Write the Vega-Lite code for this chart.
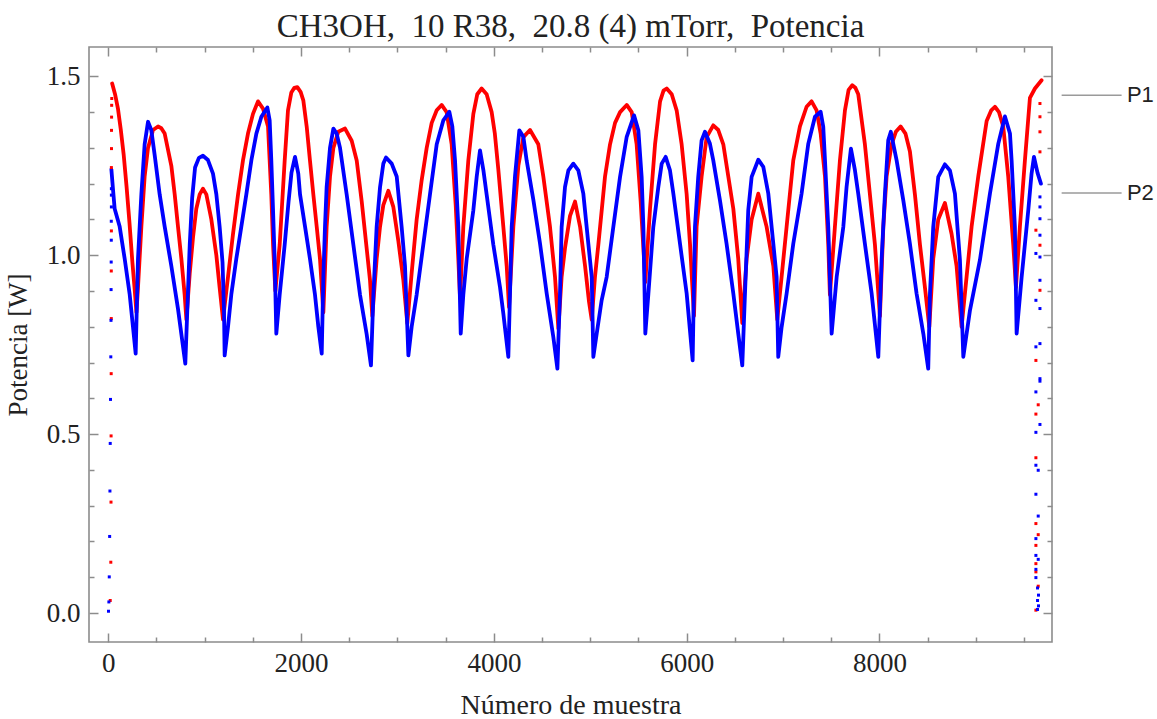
{
  "$schema": "https://vega.github.io/schema/vega-lite/v6.json",
  "width": 963,
  "height": 595,
  "autosize": {"type": "none"},
  "padding": {"left": 89, "top": 47, "right": 105, "bottom": 77},
  "background": "white",
  "title": {
    "text": "CH3OH,\u00a0 10 R38,\u00a0 20.8 (4) mTorr,\u00a0 Potencia",
    "font": "Liberation Serif",
    "fontSize": 33,
    "fontWeight": "normal",
    "color": "#222222",
    "anchor": "middle",
    "baseline": "alphabetic",
    "offset": -24
  },
  "config": {
    "view": {"stroke": "#8c8c8c", "strokeWidth": 1.6},
    "axis": {"grid": false}
  },
  "datasets": {
    "p1": [
      {"n":40,"v":1.48},{"n":70,"v":1.45},{"n":100,"v":1.41},{"n":130,"v":1.35},{"n":160,"v":1.28},{"n":190,"v":1.19},{"n":220,"v":1.09},{"n":250,"v":0.98},{"n":275,"v":0.9},{"n":292,"v":0.84},
      {"n":308,"v":0.91},{"n":343,"v":1.08},{"n":377,"v":1.22},{"n":412,"v":1.3},{"n":464,"v":1.35},{"n":516,"v":1.36},{"n":550,"v":1.355},{"n":585,"v":1.34},{"n":654,"v":1.25},{"n":689,"v":1.17},{"n":723,"v":1.08},{"n":758,"v":0.99},{"n":792,"v":0.89},{"n":810,"v":0.82},
      {"n":845,"v":0.95},{"n":879,"v":1.05},{"n":913,"v":1.13},{"n":948,"v":1.17},{"n":982,"v":1.186},{"n":1017,"v":1.17},{"n":1069,"v":1.1},{"n":1121,"v":1.0},{"n":1155,"v":0.91},{"n":1190,"v":0.82},
      {"n":1242,"v":0.94},{"n":1294,"v":1.06},{"n":1346,"v":1.17},{"n":1397,"v":1.265},{"n":1449,"v":1.34},{"n":1501,"v":1.395},{"n":1553,"v":1.43},{"n":1605,"v":1.41},{"n":1657,"v":1.36},{"n":1691,"v":1.17},{"n":1709,"v":1.03},{"n":1733,"v":0.9},
      {"n":1778,"v":1.03},{"n":1830,"v":1.265},{"n":1864,"v":1.405},{"n":1899,"v":1.455},{"n":1930,"v":1.468},{"n":1961,"v":1.47},{"n":1996,"v":1.456},{"n":2023,"v":1.433},{"n":2058,"v":1.36},{"n":2092,"v":1.265},{"n":2127,"v":1.17},{"n":2162,"v":1.08},{"n":2196,"v":0.99},{"n":2231,"v":0.84},
      {"n":2265,"v":1.08},{"n":2300,"v":1.22},{"n":2335,"v":1.3},{"n":2386,"v":1.345},{"n":2456,"v":1.354},{"n":2525,"v":1.32},{"n":2577,"v":1.265},{"n":2629,"v":1.15},{"n":2680,"v":1.02},{"n":2715,"v":0.93},{"n":2739,"v":0.83},
      {"n":2784,"v":0.99},{"n":2819,"v":1.08},{"n":2853,"v":1.14},{"n":2905,"v":1.18},{"n":2957,"v":1.135},{"n":3009,"v":1.04},{"n":3061,"v":0.93},{"n":3102,"v":0.81},
      {"n":3147,"v":0.95},{"n":3199,"v":1.1},{"n":3251,"v":1.21},{"n":3303,"v":1.3},{"n":3355,"v":1.37},{"n":3407,"v":1.405},{"n":3458,"v":1.42},{"n":3510,"v":1.4},{"n":3562,"v":1.31},{"n":3604,"v":1.14},{"n":3631,"v":0.99},{"n":3649,"v":0.88},
      {"n":3683,"v":1.08},{"n":3735,"v":1.265},{"n":3787,"v":1.395},{"n":3828,"v":1.45},{"n":3873,"v":1.466},{"n":3925,"v":1.45},{"n":3977,"v":1.4},{"n":4010,"v":1.34},{"n":4046,"v":1.24},{"n":4098,"v":1.08},{"n":4133,"v":0.97},{"n":4157,"v":0.855},
      {"n":4202,"v":1.08},{"n":4254,"v":1.25},{"n":4306,"v":1.33},{"n":4375,"v":1.35},{"n":4461,"v":1.31},{"n":4513,"v":1.22},{"n":4582,"v":1.08},{"n":4634,"v":0.94},{"n":4669,"v":0.795},
      {"n":4703,"v":0.94},{"n":4738,"v":1.02},{"n":4790,"v":1.11},{"n":4842,"v":1.15},{"n":4894,"v":1.08},{"n":4946,"v":0.97},{"n":4987,"v":0.87},{"n":5015,"v":0.82},
      {"n":5049,"v":0.94},{"n":5084,"v":1.03},{"n":5153,"v":1.22},{"n":5205,"v":1.31},{"n":5257,"v":1.37},{"n":5309,"v":1.4},{"n":5378,"v":1.42},{"n":5430,"v":1.4},{"n":5481,"v":1.31},{"n":5523,"v":1.15},{"n":5551,"v":1.02},{"n":5571,"v":0.925},
      {"n":5620,"v":1.13},{"n":5672,"v":1.31},{"n":5724,"v":1.43},{"n":5760,"v":1.46},{"n":5793,"v":1.466},{"n":5845,"v":1.45},{"n":5896,"v":1.405},{"n":5948,"v":1.31},{"n":6000,"v":1.17},{"n":6035,"v":1.03},{"n":6076,"v":0.83},
      {"n":6103,"v":1.08},{"n":6155,"v":1.22},{"n":6207,"v":1.33},{"n":6276,"v":1.363},{"n":6328,"v":1.35},{"n":6380,"v":1.31},{"n":6432,"v":1.22},{"n":6484,"v":1.13},{"n":6535,"v":0.99},{"n":6577,"v":0.81},
      {"n":6622,"v":0.99},{"n":6674,"v":1.1},{"n":6743,"v":1.172},{"n":6829,"v":1.08},{"n":6899,"v":0.97},{"n":6940,"v":0.82},
      {"n":6985,"v":0.94},{"n":7037,"v":1.08},{"n":7106,"v":1.265},{"n":7175,"v":1.36},{"n":7244,"v":1.415},{"n":7296,"v":1.43},{"n":7348,"v":1.405},{"n":7390,"v":1.34},{"n":7435,"v":1.22},{"n":7469,"v":1.03},{"n":7486,"v":0.89},
      {"n":7538,"v":1.08},{"n":7590,"v":1.265},{"n":7642,"v":1.405},{"n":7680,"v":1.462},{"n":7718,"v":1.475},{"n":7750,"v":1.468},{"n":7780,"v":1.45},{"n":7849,"v":1.31},{"n":7901,"v":1.17},{"n":7953,"v":1.03},{"n":8005,"v":0.83},
      {"n":8040,"v":1.08},{"n":8074,"v":1.22},{"n":8126,"v":1.31},{"n":8170,"v":1.345},{"n":8219,"v":1.36},{"n":8270,"v":1.34},{"n":8316,"v":1.29},{"n":8368,"v":1.17},{"n":8420,"v":1.03},{"n":8472,"v":0.91},{"n":8517,"v":0.8},
      {"n":8558,"v":0.99},{"n":8610,"v":1.1},{"n":8679,"v":1.146},{"n":8748,"v":1.06},{"n":8800,"v":0.97},{"n":8852,"v":0.8},
      {"n":8904,"v":0.94},{"n":8956,"v":1.08},{"n":9025,"v":1.22},{"n":9112,"v":1.375},{"n":9160,"v":1.405},{"n":9198,"v":1.415},{"n":9240,"v":1.4},{"n":9284,"v":1.36},{"n":9336,"v":1.22},{"n":9388,"v":1.03},{"n":9416,"v":0.91},
      {"n":9457,"v":1.08},{"n":9509,"v":1.265},{"n":9561,"v":1.44},{"n":9613,"v":1.466},{"n":9682,"v":1.489}
    ],
    "p2": [
      {"n":32,"v":1.24},{"n":50,"v":1.18},{"n":66,"v":1.13},{"n":118,"v":1.08},{"n":170,"v":0.99},{"n":222,"v":0.89},{"n":256,"v":0.8},{"n":284,"v":0.725},
      {"n":308,"v":0.99},{"n":343,"v":1.17},{"n":377,"v":1.31},{"n":412,"v":1.373},{"n":446,"v":1.35},{"n":481,"v":1.28},{"n":533,"v":1.17},{"n":585,"v":1.08},{"n":654,"v":0.97},{"n":723,"v":0.85},{"n":799,"v":0.697},
      {"n":820,"v":0.85},{"n":845,"v":1.03},{"n":870,"v":1.16},{"n":900,"v":1.245},{"n":940,"v":1.272},{"n":982,"v":1.278},{"n":1034,"v":1.266},{"n":1086,"v":1.228},{"n":1121,"v":1.17},{"n":1155,"v":1.08},{"n":1185,"v":0.98},{"n":1200,"v":0.85},{"n":1207,"v":0.72},
      {"n":1242,"v":0.8},{"n":1276,"v":0.89},{"n":1328,"v":0.99},{"n":1380,"v":1.08},{"n":1432,"v":1.17},{"n":1484,"v":1.265},{"n":1536,"v":1.34},{"n":1588,"v":1.387},{"n":1650,"v":1.413},{"n":1674,"v":1.377},{"n":1691,"v":1.265},{"n":1709,"v":1.126},{"n":1726,"v":0.986},{"n":1743,"v":0.781},
      {"n":1778,"v":0.89},{"n":1830,"v":1.03},{"n":1870,"v":1.15},{"n":1900,"v":1.23},{"n":1937,"v":1.275},{"n":1971,"v":1.228},{"n":1989,"v":1.17},{"n":2041,"v":1.08},{"n":2092,"v":0.99},{"n":2144,"v":0.89},{"n":2179,"v":0.8},{"n":2214,"v":0.725},
      {"n":2231,"v":0.94},{"n":2248,"v":1.08},{"n":2265,"v":1.19},{"n":2300,"v":1.3},{"n":2335,"v":1.354},{"n":2369,"v":1.34},{"n":2404,"v":1.3},{"n":2473,"v":1.17},{"n":2542,"v":1.03},{"n":2611,"v":0.89},{"n":2680,"v":0.78},{"n":2725,"v":0.692},
      {"n":2750,"v":0.89},{"n":2784,"v":1.08},{"n":2819,"v":1.19},{"n":2853,"v":1.256},{"n":2881,"v":1.273},{"n":2940,"v":1.256},{"n":2992,"v":1.22},{"n":3043,"v":1.08},{"n":3078,"v":0.97},{"n":3113,"v":0.72},
      {"n":3147,"v":0.8},{"n":3199,"v":0.89},{"n":3268,"v":1.03},{"n":3337,"v":1.17},{"n":3407,"v":1.31},{"n":3476,"v":1.377},{"n":3538,"v":1.401},{"n":3569,"v":1.36},{"n":3597,"v":1.265},{"n":3631,"v":1.08},{"n":3656,"v":0.781},
      {"n":3683,"v":0.89},{"n":3718,"v":0.99},{"n":3787,"v":1.126},{"n":3822,"v":1.22},{"n":3856,"v":1.293},{"n":3891,"v":1.238},{"n":3925,"v":1.17},{"n":3994,"v":1.03},{"n":4064,"v":0.91},{"n":4098,"v":0.837},{"n":4150,"v":0.716},
      {"n":4167,"v":0.89},{"n":4185,"v":1.08},{"n":4219,"v":1.22},{"n":4264,"v":1.349},{"n":4306,"v":1.331},{"n":4340,"v":1.265},{"n":4410,"v":1.154},{"n":4479,"v":1.032},{"n":4548,"v":0.893},{"n":4617,"v":0.771},{"n":4659,"v":0.683},
      {"n":4686,"v":0.893},{"n":4703,"v":1.079},{"n":4738,"v":1.191},{"n":4773,"v":1.237},{"n":4824,"v":1.256},{"n":4876,"v":1.237},{"n":4928,"v":1.172},{"n":4980,"v":1.032},{"n":5015,"v":0.939},{"n":5032,"v":0.716},
      {"n":5067,"v":0.781},{"n":5118,"v":0.874},{"n":5170,"v":0.939},{"n":5239,"v":1.079},{"n":5309,"v":1.219},{"n":5378,"v":1.331},{"n":5454,"v":1.391},{"n":5499,"v":1.349},{"n":5533,"v":1.219},{"n":5551,"v":1.079},{"n":5571,"v":0.781},
      {"n":5603,"v":0.893},{"n":5654,"v":1.079},{"n":5706,"v":1.191},{"n":5741,"v":1.256},{"n":5782,"v":1.275},{"n":5827,"v":1.237},{"n":5862,"v":1.172},{"n":5931,"v":1.032},{"n":6000,"v":0.893},{"n":6062,"v":0.706},
      {"n":6086,"v":1.079},{"n":6120,"v":1.219},{"n":6155,"v":1.321},{"n":6190,"v":1.345},{"n":6241,"v":1.312},{"n":6276,"v":1.265},{"n":6345,"v":1.154},{"n":6414,"v":1.032},{"n":6484,"v":0.893},{"n":6535,"v":0.781},{"n":6577,"v":0.692},
      {"n":6605,"v":0.893},{"n":6639,"v":1.126},{"n":6674,"v":1.219},{"n":6743,"v":1.267},{"n":6795,"v":1.247},{"n":6847,"v":1.172},{"n":6899,"v":1.032},{"n":6933,"v":0.939},{"n":6950,"v":0.716},
      {"n":6985,"v":0.799},{"n":7037,"v":0.893},{"n":7106,"v":1.032},{"n":7192,"v":1.172},{"n":7262,"v":1.312},{"n":7331,"v":1.387},{"n":7390,"v":1.401},{"n":7417,"v":1.359},{"n":7435,"v":1.265},{"n":7469,"v":1.079},{"n":7504,"v":0.781},
      {"n":7556,"v":0.939},{"n":7625,"v":1.079},{"n":7659,"v":1.191},{"n":7704,"v":1.298},{"n":7746,"v":1.237},{"n":7780,"v":1.172},{"n":7849,"v":1.032},{"n":7919,"v":0.893},{"n":7988,"v":0.716},
      {"n":8022,"v":0.986},{"n":8057,"v":1.172},{"n":8091,"v":1.321},{"n":8118,"v":1.345},{"n":8178,"v":1.265},{"n":8247,"v":1.154},{"n":8316,"v":1.032},{"n":8385,"v":0.893},{"n":8455,"v":0.781},{"n":8506,"v":0.683},
      {"n":8524,"v":0.893},{"n":8558,"v":1.079},{"n":8610,"v":1.219},{"n":8679,"v":1.254},{"n":8731,"v":1.237},{"n":8783,"v":1.172},{"n":8835,"v":0.986},{"n":8870,"v":0.716},
      {"n":8939,"v":0.846},{"n":9042,"v":0.986},{"n":9146,"v":1.172},{"n":9233,"v":1.312},{"n":9302,"v":1.388},{"n":9354,"v":1.34},{"n":9371,"v":1.265},{"n":9405,"v":1.079},{"n":9423,"v":0.781},
      {"n":9475,"v":0.939},{"n":9544,"v":1.126},{"n":9578,"v":1.228},{"n":9603,"v":1.275},{"n":9640,"v":1.23},{"n":9675,"v":1.2}
    ],
    "ends": [
      {"s":"P1","n":20,"v":0.035},{"s":"P1","n":26,"v":0.142},{"s":"P1","n":28,"v":0.31},{"s":"P1","n":29,"v":0.495},{"s":"P1","n":30,"v":0.669},{"s":"P1","n":31,"v":0.823},{"s":"P1","n":31,"v":0.956},{"s":"P1","n":32,"v":1.068},{"s":"P1","n":32,"v":1.245},{"s":"P1","n":33,"v":1.298},{"s":"P1","n":33,"v":1.349},{"s":"P1","n":34,"v":1.386},{"s":"P1","n":35,"v":1.419},{"s":"P1","n":36,"v":1.438},
      {"s":"P2","n":2,"v":0.005},{"s":"P2","n":6,"v":0.031},{"s":"P2","n":10,"v":0.101},{"s":"P2","n":14,"v":0.214},{"s":"P2","n":17,"v":0.341},{"s":"P2","n":20,"v":0.474},{"s":"P2","n":23,"v":0.597},{"s":"P2","n":26,"v":0.716},{"s":"P2","n":28,"v":0.818},{"s":"P2","n":29,"v":0.904},{"s":"P2","n":30,"v":0.981},{"s":"P2","n":31,"v":1.042},{"s":"P2","n":31,"v":1.095},{"s":"P2","n":32,"v":1.135},{"s":"P2","n":32,"v":1.168},{"s":"P2","n":32,"v":1.186},
      {"s":"P1","n":9665,"v":1.424},{"s":"P1","n":9665,"v":1.387},{"s":"P1","n":9665,"v":1.345},{"s":"P1","n":9665,"v":1.289},{"s":"P1","n":9623,"v":1.07},{"s":"P1","n":9665,"v":1.028},{"s":"P1","n":9665,"v":0.902},{"s":"P1","n":9623,"v":0.706},{"s":"P1","n":9647,"v":0.582},{"s":"P1","n":9623,"v":0.556},{"s":"P1","n":9623,"v":0.434},{"s":"P1","n":9623,"v":0.25},{"s":"P1","n":9647,"v":0.219},{"s":"P1","n":9623,"v":0.189},{"s":"P1","n":9623,"v":0.138},{"s":"P1","n":9623,"v":0.115},{"s":"P1","n":9647,"v":0.075},{"s":"P1","n":9623,"v":0.008},
      {"s":"P2","n":9665,"v":1.163},{"s":"P2","n":9665,"v":1.135},{"s":"P2","n":9665,"v":1.102},{"s":"P2","n":9665,"v":1.056},{"s":"P2","n":9623,"v":1.005},{"s":"P2","n":9665,"v":0.995},{"s":"P2","n":9665,"v":0.93},{"s":"P2","n":9623,"v":0.874},{"s":"P2","n":9665,"v":0.851},{"s":"P2","n":9665,"v":0.753},{"s":"P2","n":9623,"v":0.744},{"s":"P2","n":9665,"v":0.655},{"s":"P2","n":9665,"v":0.648},{"s":"P2","n":9623,"v":0.618},{"s":"P2","n":9665,"v":0.527},{"s":"P2","n":9623,"v":0.505},{"s":"P2","n":9623,"v":0.413},{"s":"P2","n":9647,"v":0.399},{"s":"P2","n":9623,"v":0.332},{"s":"P2","n":9647,"v":0.271},{"s":"P2","n":9623,"v":0.208},{"s":"P2","n":9623,"v":0.161},{"s":"P2","n":9647,"v":0.15},{"s":"P2","n":9623,"v":0.122},{"s":"P2","n":9623,"v":0.099},{"s":"P2","n":9640,"v":0.07},{"s":"P2","n":9650,"v":0.05},{"s":"P2","n":9640,"v":0.035},{"s":"P2","n":9650,"v":0.02},{"s":"P2","n":9640,"v":0.01}
    ],
    "tags": [
      {"s":"P1","v":1.447},
      {"s":"P2","v":1.174}
    ]
  },
  "resolve": {"axis": {"x": "independent", "y": "independent"}},
  "layer": [
    {
      "data": {"name": "p1"},
      "mark": {"type": "line", "strokeWidth": 3.8, "strokeJoin": "round", "strokeCap": "round"},
      "encoding": {
        "x": {
          "field": "n", "type": "quantitative",
          "scale": {"domain": [-200.2, 9790], "nice": false, "zero": false},
          "axis": {
            "orient": "bottom", "values": [0, 2000, 4000, 6000, 8000], "format": "d",
            "ticks": false, "domain": false,
            "labelFont": "Liberation Serif", "labelFontSize": 27, "labelColor": "#222222", "labelPadding": 8,
            "title": "Número de muestra", "titleFont": "Liberation Serif", "titleFontSize": 28,
            "titleFontWeight": "normal", "titleColor": "#222222", "titlePadding": 15
          }
        },
        "y": {
          "field": "v", "type": "quantitative",
          "scale": {"domain": [-0.081, 1.582], "nice": false, "zero": false},
          "axis": {
            "orient": "left", "values": [0, 0.5, 1, 1.5], "format": ".1f",
            "ticks": false, "domain": false,
            "labelFont": "Liberation Serif", "labelFontSize": 27, "labelColor": "#222222", "labelPadding": 9,
            "title": "Potencia [W]", "titleFont": "Liberation Serif", "titleFontSize": 27,
            "titleFontWeight": "normal", "titleColor": "#222222", "titlePadding": 14
          }
        },
        "color": {"datum": "P1", "type": "nominal", "scale": {"domain": ["P1", "P2"], "range": ["#ff0000", "#0000ff"]}, "legend": null}
      }
    },
    {
      "data": {"name": "p2"},
      "mark": {"type": "line", "strokeWidth": 3.8, "strokeJoin": "round", "strokeCap": "round"},
      "encoding": {
        "x": {
          "field": "n", "type": "quantitative",
          "scale": {"domain": [-200.2, 9790], "nice": false, "zero": false},
          "axis": {
            "orient": "bottom", "values": [0,500,1000,1500,2000,2500,3000,3500,4000,4500,5000,5500,6000,6500,7000,7500,8000,8500,9000,9500],
            "labels": false, "domain": false, "title": null,
            "tickColor": "#8c8c8c", "tickWidth": 1.5,
            "tickSize": {"condition": {"test": "datum.value % 2000 === 0", "value": -9}, "value": -5}
          }
        },
        "y": {
          "field": "v", "type": "quantitative",
          "scale": {"domain": [-0.081, 1.582], "nice": false, "zero": false},
          "axis": {
            "orient": "left", "values": [0,0.1,0.2,0.3,0.4,0.5,0.6,0.7,0.8,0.9,1,1.1,1.2,1.3,1.4,1.5],
            "labels": false, "domain": false, "title": null,
            "tickColor": "#8c8c8c", "tickWidth": 1.5,
            "tickSize": {"condition": {"test": "datum.value % 0.5 === 0", "value": -9}, "value": -5}
          }
        },
        "color": {"datum": "P2", "type": "nominal", "scale": {"domain": ["P1", "P2"], "range": ["#ff0000", "#0000ff"]}, "legend": null}
      }
    },
    {
      "data": {"name": "ends"},
      "mark": {"type": "point", "shape": "square", "filled": true, "size": 9, "opacity": 1},
      "encoding": {
        "x": {
          "field": "n", "type": "quantitative",
          "scale": {"domain": [-200.2, 9790], "nice": false, "zero": false},
          "axis": {
            "orient": "top", "values": [0,500,1000,1500,2000,2500,3000,3500,4000,4500,5000,5500,6000,6500,7000,7500,8000,8500,9000,9500],
            "labels": false, "domain": false, "title": null,
            "tickColor": "#8c8c8c", "tickWidth": 1.5,
            "tickSize": {"condition": {"test": "datum.value % 2000 === 0", "value": -9}, "value": -5}
          }
        },
        "y": {
          "field": "v", "type": "quantitative",
          "scale": {"domain": [-0.081, 1.582], "nice": false, "zero": false},
          "axis": {
            "orient": "right", "values": [0,0.1,0.2,0.3,0.4,0.5,0.6,0.7,0.8,0.9,1,1.1,1.2,1.3,1.4,1.5],
            "labels": false, "domain": false, "title": null,
            "tickColor": "#8c8c8c", "tickWidth": 1.5,
            "tickSize": {"condition": {"test": "datum.value % 0.5 === 0", "value": -9}, "value": -5}
          }
        },
        "color": {"field": "s", "type": "nominal", "scale": {"domain": ["P1", "P2"], "range": ["#ff0000", "#0000ff"]}, "legend": null}
      }
    },
    {
      "data": {"name": "tags"},
      "mark": {"type": "rule", "color": "#9a9a9a", "strokeWidth": 1.6},
      "encoding": {
        "x": {"datum": 9890, "type": "quantitative", "axis": null, "scale": {"domain": [-200.2, 9790], "nice": false, "zero": false}},
        "x2": {"datum": 10512},
        "y": {"field": "v", "type": "quantitative", "axis": null, "scale": {"domain": [-0.081, 1.582], "nice": false, "zero": false}}
      }
    },
    {
      "data": {"name": "tags"},
      "mark": {"type": "text", "font": "Liberation Sans", "fontSize": 22, "color": "#222222", "align": "left", "baseline": "middle"},
      "encoding": {
        "x": {"datum": 10567, "type": "quantitative", "axis": null, "scale": {"domain": [-200.2, 9790], "nice": false, "zero": false}},
        "y": {"field": "v", "type": "quantitative", "axis": null, "scale": {"domain": [-0.081, 1.582], "nice": false, "zero": false}},
        "text": {"field": "s"}
      }
    }
  ]
}
